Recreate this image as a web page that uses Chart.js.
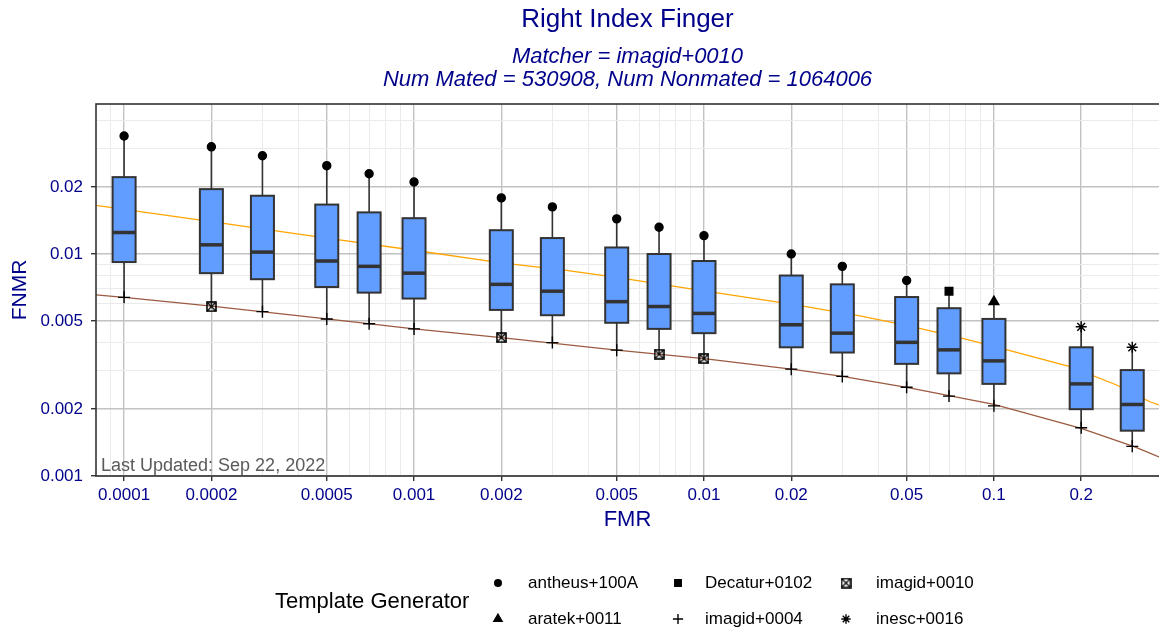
<!DOCTYPE html>
<html>
<head>
<meta charset="utf-8">
<script src="https://cdn.jsdelivr.net/npm/chart.js@4.4.1/dist/chart.umd.min.js"></script>
<style>
  html, body { margin: 0; padding: 0; background: #fff; }
  #wrap { width: 1159px; height: 635px; position: relative; }
</style>
</head>
<body>
<div id="wrap"><canvas id="chart"></canvas></div>
<script>
// one box per FMR operating point
const fmrPoints = [0.0001, 0.0002, 0.0003, 0.0005, 0.0007, 0.001, 0.002, 0.003, 0.005,
                   0.007, 0.01, 0.02, 0.03, 0.05, 0.07, 0.1, 0.2, 0.3];
const worstFnmr = [0.0340, 0.0304, 0.0277, 0.0250, 0.0230, 0.0211, 0.0179, 0.0163, 0.0144,
                   0.0132, 0.0121, 0.0100, 0.0088, 0.0076, 0.0068, 0.0061, 0.0047, 0.0038];
const q3Fnmr = [0.0222, 0.0196, 0.0183, 0.0167, 0.0154, 0.0145, 0.0128, 0.0118, 0.0107,
                0.0100, 0.0093, 0.0080, 0.0073, 0.0064, 0.0057, 0.0051, 0.0038, 0.0030];
const medianFnmr = [0.0125, 0.0110, 0.0102, 0.0093, 0.0088, 0.0082, 0.0073, 0.0068, 0.0061,
                    0.0058, 0.0054, 0.0048, 0.0044, 0.0040, 0.0037, 0.0033, 0.0026, 0.0021];
const q1Fnmr = [0.0092, 0.0082, 0.0077, 0.0071, 0.0067, 0.0063, 0.0056, 0.0053, 0.0049,
                0.0046, 0.0044, 0.0038, 0.0036, 0.0032, 0.0029, 0.0026, 0.0020, 0.0016];
const bestFnmr = [0.00638, 0.00579, 0.00550, 0.00510, 0.00485, 0.00460, 0.00420, 0.00399, 0.00369,
                  0.00354, 0.00338, 0.00303, 0.00281, 0.00251, 0.00229, 0.00207, 0.00165, 0.00136];
const worstGen = ['antheus+100A', 'antheus+100A', 'antheus+100A', 'antheus+100A', 'antheus+100A',
                  'antheus+100A', 'antheus+100A', 'antheus+100A', 'antheus+100A', 'antheus+100A',
                  'antheus+100A', 'antheus+100A', 'antheus+100A', 'antheus+100A', 'Decatur+0102',
                  'aratek+0011', 'inesc+0016', 'inesc+0016'];
const bestGen = ['imagid+0004', 'imagid+0010', 'imagid+0004', 'imagid+0004', 'imagid+0004',
                 'imagid+0004', 'imagid+0010', 'imagid+0004', 'imagid+0004', 'imagid+0010',
                 'imagid+0010', 'imagid+0004', 'imagid+0004', 'imagid+0004', 'imagid+0004',
                 'imagid+0004', 'imagid+0004', 'imagid+0004'];

// reference DET curves
const orangeFmr = [0.00008, 0.0001, 0.0002, 0.0005, 0.001, 0.002, 0.0033, 0.005, 0.01, 0.02,
                   0.0345, 0.05, 0.078, 0.1, 0.183, 0.265, 0.345, 0.371];
const orangeFnmr = [0.01656, 0.0159, 0.0140, 0.0118, 0.0104, 0.00913, 0.00847, 0.00784, 0.00683, 0.00595,
                    0.00526, 0.00477, 0.00417, 0.00384, 0.00311, 0.00257, 0.00216, 0.00209];
const brownFmr = [0.00008, 0.0001, 0.0002, 0.0005, 0.001, 0.002, 0.005, 0.01, 0.02, 0.03,
                  0.05, 0.1, 0.2, 0.306, 0.371];
const brownFnmr = [0.00654, 0.00638, 0.00583, 0.00510, 0.00460, 0.00420, 0.00369, 0.00338, 0.00303, 0.00281,
                   0.00251, 0.00210, 0.00164, 0.001354, 0.00122];

// axes
const xMajorTicks = [0.0001, 0.0002, 0.0005, 0.001, 0.002, 0.005, 0.01, 0.02, 0.05, 0.1, 0.2];
const xTickLabels = ['0.0001', '0.0002', '0.0005', '0.001', '0.002', '0.005', '0.01', '0.02', '0.05', '0.1', '0.2'];
const xMinorTicks = [0.00009, 0.0003, 0.0004, 0.0006, 0.0007, 0.0008, 0.0009, 0.003, 0.004, 0.006, 0.007,
                     0.008, 0.009, 0.03, 0.04, 0.06, 0.07, 0.08, 0.09, 0.3];
const yMajorTicks = [0.001, 0.002, 0.005, 0.01, 0.02];
const yTickLabels = ['0.001', '0.002', '0.005', '0.01', '0.02'];
const yMinorTicks = [0.003, 0.004, 0.006, 0.007, 0.008, 0.009, 0.03, 0.04];

const generators = ['antheus+100A', 'aratek+0011', 'Decatur+0102', 'imagid+0004', 'imagid+0010', 'inesc+0016'];

const navy = '#00008B';
const fontFam = "'Liberation Sans', Arial, sans-serif";

// square with an X in it (ggplot shape 7)
function crossedBox() {
    const c = document.createElement('canvas');
    c.width = 11; c.height = 11;
    const g = c.getContext('2d');
    g.strokeStyle = '#000';
    g.lineWidth = 1.6;
    g.strokeRect(1, 1, 9, 9);
    g.lineWidth = 1.3;
    g.beginPath();
    g.moveTo(1, 1); g.lineTo(10, 10);
    g.moveTo(10, 1); g.lineTo(1, 10);
    g.stroke();
    return c;
}

const genStyle = {
    'antheus+100A': { pointStyle: 'circle', radius: 4 },
    'aratek+0011': { pointStyle: 'triangle', radius: 5.6 },
    'Decatur+0102': { pointStyle: 'rect', radius: 5.4 },
    'imagid+0004': { pointStyle: 'cross', radius: 6 },
    'imagid+0010': { pointStyle: crossedBox(), radius: 5 },
    'inesc+0016': { pointStyle: 'star', radius: 5.5 }
};

function near(v, list) {
    return list.findIndex(t => Math.abs(t - v) / t < 1e-6);
}

function buildPoints(gen) {
    const pts = [];
    fmrPoints.forEach((f, i) => {
        if (worstGen[i] === gen) pts.push({ x: f, y: worstFnmr[i] });
        if (bestGen[i] === gen) pts.push({ x: f, y: bestFnmr[i] });
    });
    return pts;
}

const datasets = [
    {
        type: 'line', label: 'orange', order: 3,
        data: orangeFmr.map((f, i) => ({ x: f, y: orangeFnmr[i] })),
        borderColor: '#FFA500', borderWidth: 1.3, pointRadius: 0, tension: 0
    },
    {
        type: 'line', label: 'brown', order: 2,
        data: brownFmr.map((f, i) => ({ x: f, y: brownFnmr[i] })),
        borderColor: '#9c5a40', borderWidth: 1.3, pointRadius: 0, tension: 0
    }
];
generators.forEach(gen => {
    datasets.push({
        type: 'scatter', label: gen, order: 0,
        data: buildPoints(gen),
        pointStyle: genStyle[gen].pointStyle,
        pointRadius: genStyle[gen].radius,
        pointBackgroundColor: '#000',
        pointBorderColor: '#000',
        pointBorderWidth: 1.4
    });
});

// boxes go between the curves and the points
let boxesDone = false;
const boxPlugin = {
    id: 'boxes',
    beforeDraw() { boxesDone = false; },
    beforeDatasetDraw(chart, args) {
        if (boxesDone || chart.data.datasets[args.index].type !== 'scatter') return;
        boxesDone = true;
        const { ctx, chartArea, scales: { x, y } } = chart;
        ctx.save();
        ctx.beginPath();
        ctx.rect(chartArea.left, chartArea.top, chartArea.width, chartArea.height);
        ctx.clip();
        fmrPoints.forEach((f, i) => {
            const cx = x.getPixelForValue(f);
            const half = 11.5;
            const yW = y.getPixelForValue(worstFnmr[i]);
            const y3 = y.getPixelForValue(q3Fnmr[i]);
            const yM = y.getPixelForValue(medianFnmr[i]);
            const y1 = y.getPixelForValue(q1Fnmr[i]);
            const yB = y.getPixelForValue(bestFnmr[i]);
            ctx.strokeStyle = '#333';
            ctx.lineWidth = 1.6;
            ctx.beginPath();
            ctx.moveTo(cx, yW); ctx.lineTo(cx, y3);
            ctx.moveTo(cx, y1); ctx.lineTo(cx, yB);
            ctx.stroke();
            ctx.fillStyle = '#619CFF';
            ctx.fillRect(cx - half, y3, half * 2, y1 - y3);
            ctx.lineWidth = 2;
            ctx.strokeRect(cx - half, y3, half * 2, y1 - y3);
            ctx.lineWidth = 3.5;
            ctx.beginPath();
            ctx.moveTo(cx - half, yM); ctx.lineTo(cx + half, yM);
            ctx.stroke();
        });
        ctx.restore();
    }
};

const decoPlugin = {
    id: 'deco',
    afterDatasetsDraw(chart) {
        const { ctx, chartArea } = chart;
        ctx.save();
        ctx.font = '18px ' + fontFam;
        ctx.fillStyle = '#5a5a5a';
        ctx.textAlign = 'left';
        ctx.textBaseline = 'middle';
        ctx.fillText('Last Updated: Sep 22, 2022', chartArea.left + 5, chartArea.bottom - 10);
        // panel border
        ctx.strokeStyle = '#333';
        ctx.lineWidth = 1.6;
        ctx.strokeRect(chartArea.left, chartArea.top, chartArea.right - chartArea.left + 2, chartArea.bottom - chartArea.top);
        ctx.restore();
    },
    afterDraw(chart) {
        const { ctx, chartArea } = chart;
        const cx = (chartArea.left + chartArea.right) / 2;
        ctx.save();
        ctx.textAlign = 'center';
        ctx.textBaseline = 'middle';
        ctx.fillStyle = navy;
        ctx.font = '26px ' + fontFam;
        ctx.fillText('Right Index Finger', cx, 20);
        ctx.font = 'italic 22px ' + fontFam;
        ctx.fillText('Matcher = imagid+0010', cx, 57);
        ctx.fillText('Num Mated = 530908, Num Nonmated = 1064006', cx, 80);

        // legend
        ctx.fillStyle = '#000';
        ctx.textAlign = 'left';
        ctx.font = '22px ' + fontFam;
        ctx.fillText('Template Generator', 275, 602);
        ctx.font = '17px ' + fontFam;
        const colMarker = [498, 678, 846];
        const colText = [528, 705, 876];
        const rowY = [583, 619];
        generators.forEach((gen, k) => {
            const col = Math.floor(k / 2), row = k % 2;
            ctx.fillStyle = '#000';
            ctx.strokeStyle = '#000';
            ctx.lineWidth = 1.4;
            const st = genStyle[gen];
            Chart.helpers.drawPoint(ctx, {
                pointStyle: st.pointStyle,
                radius: st.pointStyle === 'circle' ? 3.3 : st.radius * 0.85,
                rotation: 0,
                borderWidth: 1.4
            }, colMarker[col], rowY[row]);
            ctx.fillText(gen, colText[col], rowY[row]);
        });
        ctx.restore();
    }
};

function gridColor(list) {
    return c => near(c.tick.value, list) >= 0 ? '#c2c2c2' : '#ebebeb';
}
function gridWidth(list) {
    return c => near(c.tick.value, list) >= 0 ? 1.4 : 1;
}
function tickColor(list) {
    return c => near(c.tick.value, list) >= 0 ? '#333' : 'rgba(0,0,0,0)';
}

new Chart(document.getElementById('chart'), {
    type: 'scatter',
    data: { datasets },
    options: {
        responsive: true,
        maintainAspectRatio: false,
        animation: false,
        layout: { autoPadding: false, padding: { top: 104, right: 0, bottom: 99, left: 0 } },
        plugins: {
            legend: { display: false },
            tooltip: { enabled: false },
            title: { display: false }
        },
        scales: {
            x: {
                type: 'logarithmic',
                bounds: 'data',
                min: 0.00008,
                max: 0.371,
                afterBuildTicks: s => { s.ticks = xMajorTicks.concat(xMinorTicks).map(v => ({ value: v })); },
                afterFit: s => { s.height = 60; },
                border: { display: false },
                grid: {
                    color: gridColor(xMajorTicks),
                    lineWidth: gridWidth(xMajorTicks),
                    tickColor: tickColor(xMajorTicks),
                    tickLength: 5,
                    tickWidth: 1.4
                },
                ticks: {
                    autoSkip: false,
                    maxRotation: 0,
                    padding: 4,
                    color: navy,
                    font: { family: fontFam, size: 17 },
                    callback: v => { const k = near(v, xMajorTicks); return k >= 0 ? xTickLabels[k] : ''; }
                },
                title: {
                    display: true, text: 'FMR', color: navy,
                    font: { family: fontFam, size: 22 },
                    padding: { top: 0, bottom: 3 }
                }
            },
            y: {
                type: 'logarithmic',
                bounds: 'data',
                min: 0.001,
                max: 0.0474,
                afterBuildTicks: s => { s.ticks = yMajorTicks.concat(yMinorTicks).map(v => ({ value: v })); },
                afterFit: s => { s.width = 96; },
                border: { display: false },
                grid: {
                    color: gridColor(yMajorTicks),
                    lineWidth: gridWidth(yMajorTicks),
                    tickColor: tickColor(yMajorTicks),
                    tickLength: 5,
                    tickWidth: 1.4
                },
                ticks: {
                    autoSkip: false,
                    padding: 8,
                    color: navy,
                    font: { family: fontFam, size: 17 },
                    callback: v => { const k = near(v, yMajorTicks); return k >= 0 ? yTickLabels[k] : ''; }
                },
                title: {
                    display: true, text: 'FNMR', color: navy,
                    font: { family: fontFam, size: 21 },
                    padding: { top: 8, bottom: 0 }
                }
            }
        }
    },
    plugins: [boxPlugin, decoPlugin]
});
</script>
</body>
</html>
